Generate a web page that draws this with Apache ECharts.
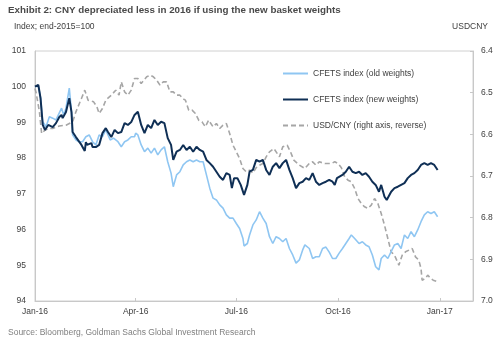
<!DOCTYPE html>
<html>
<head>
<meta charset="utf-8">
<script src="https://cdn.jsdelivr.net/npm/echarts@6/dist/echarts.min.js"></script>
<style>html,body{margin:0;padding:0;background:#fff;}#c{width:500px;height:340px;}</style>
</head>
<body>
<div id="c"></div>
<script>
var tickDates = ['2016-01-01','2016-04-01','2016-07-01','2016-10-01','2017-01-01'];
var tickLabels = ['Jan-16','Apr-16','Jul-16','Oct-16','Jan-17'];
var leftTicks = [94, 95, 96, 97, 98, 99, 100, 101];
var rightTicks = [6.4, 6.5, 6.6, 6.7, 6.8, 6.9, 7.0];

var newDates = ['2016-01-01','2016-01-04','2016-01-06','2016-01-08','2016-01-10','2016-01-13','2016-01-14','2016-01-17','2016-01-20','2016-01-23','2016-01-25','2016-01-26','2016-01-29','2016-02-01','2016-02-03','2016-02-04','2016-02-07','2016-02-12','2016-02-15','2016-02-16','2016-02-17','2016-02-21','2016-02-22','2016-02-25','2016-02-28','2016-03-02','2016-03-05','2016-03-07','2016-03-10','2016-03-13','2016-03-16','2016-03-19','2016-03-22','2016-03-25','2016-03-28','2016-03-31','2016-04-03','2016-04-06','2016-04-09','2016-04-12','2016-04-15','2016-04-18','2016-04-21','2016-04-24','2016-04-27','2016-04-30','2016-05-03','2016-05-05','2016-05-08','2016-05-11','2016-05-14','2016-05-17','2016-05-20','2016-05-23','2016-05-26','2016-05-29','2016-06-01','2016-06-04','2016-06-07','2016-06-10','2016-06-13','2016-06-16','2016-06-19','2016-06-22','2016-06-25','2016-06-27','2016-06-29','2016-07-02','2016-07-05','2016-07-08','2016-07-11','2016-07-13','2016-07-16','2016-07-19','2016-07-22','2016-07-25','2016-07-28','2016-07-31','2016-08-03','2016-08-06','2016-08-09','2016-08-12','2016-08-15','2016-08-16','2016-08-18','2016-08-21','2016-08-24','2016-08-27','2016-08-30','2016-09-02','2016-09-05','2016-09-08','2016-09-11','2016-09-14','2016-09-17','2016-09-20','2016-09-23','2016-09-26','2016-09-28','2016-09-30','2016-10-05','2016-10-08','2016-10-11','2016-10-14','2016-10-17','2016-10-20','2016-10-23','2016-10-26','2016-10-29','2016-11-01','2016-11-04','2016-11-07','2016-11-09','2016-11-12','2016-11-14','2016-11-18','2016-11-21','2016-11-24','2016-11-27','2016-11-30','2016-12-03','2016-12-06','2016-12-09','2016-12-12','2016-12-15','2016-12-18','2016-12-21','2016-12-24','2016-12-27','2016-12-30'];
var newValues = [100.0,100.05,99.68,98.93,98.79,98.93,98.98,98.87,98.98,99.15,99.21,99.12,99.29,99.68,99.29,98.73,98.59,98.37,98.20,98.45,98.37,98.42,98.31,98.31,98.37,98.70,98.84,98.73,98.59,98.79,98.70,98.73,98.98,98.93,99.01,99.21,99.30,98.93,98.70,98.93,98.84,99.07,98.93,99.02,98.98,98.56,98.37,97.95,98.18,98.23,98.37,98.23,98.32,98.18,98.32,98.23,98.18,97.95,97.86,97.76,97.62,97.48,97.39,97.58,97.53,97.16,97.44,97.44,97.25,96.97,97.25,97.62,97.67,97.95,97.90,97.95,97.67,97.53,97.76,97.86,97.72,97.86,97.95,97.95,97.67,97.44,97.16,97.30,97.34,97.44,97.39,97.58,97.34,97.25,97.30,97.34,97.39,97.34,97.25,97.44,97.53,97.62,97.76,97.62,97.58,97.62,97.53,97.58,97.48,97.34,97.25,97.06,97.25,96.92,96.83,97.06,97.16,97.20,97.25,97.30,97.44,97.53,97.58,97.67,97.81,97.86,97.81,97.86,97.81,97.67];

var oldDates = ['2016-01-01','2016-01-04','2016-01-06','2016-01-08','2016-01-11','2016-01-14','2016-01-17','2016-01-20','2016-01-25','2016-01-27','2016-01-29','2016-02-01','2016-02-03','2016-02-04','2016-02-07','2016-02-10','2016-02-13','2016-02-16','2016-02-19','2016-02-22','2016-02-25','2016-02-28','2016-03-02','2016-03-05','2016-03-09','2016-03-12','2016-03-16','2016-03-19','2016-03-22','2016-03-25','2016-03-28','2016-03-31','2016-04-01','2016-04-03','2016-04-06','2016-04-09','2016-04-12','2016-04-15','2016-04-18','2016-04-21','2016-04-24','2016-04-27','2016-04-30','2016-05-03','2016-05-05','2016-05-08','2016-05-11','2016-05-14','2016-05-17','2016-05-20','2016-05-23','2016-05-26','2016-05-29','2016-06-01','2016-06-04','2016-06-07','2016-06-10','2016-06-13','2016-06-16','2016-06-19','2016-06-22','2016-06-25','2016-06-28','2016-07-01','2016-07-04','2016-07-07','2016-07-08','2016-07-11','2016-07-13','2016-07-16','2016-07-19','2016-07-22','2016-07-25','2016-07-28','2016-07-31','2016-08-03','2016-08-06','2016-08-09','2016-08-12','2016-08-15','2016-08-18','2016-08-21','2016-08-24','2016-08-27','2016-08-30','2016-09-01','2016-09-05','2016-09-08','2016-09-11','2016-09-14','2016-09-17','2016-09-20','2016-09-23','2016-09-26','2016-09-29','2016-10-02','2016-10-05','2016-10-08','2016-10-11','2016-10-13','2016-10-16','2016-10-20','2016-10-23','2016-10-26','2016-10-29','2016-11-01','2016-11-04','2016-11-07','2016-11-09','2016-11-12','2016-11-15','2016-11-18','2016-11-21','2016-11-24','2016-11-27','2016-11-30','2016-12-03','2016-12-06','2016-12-09','2016-12-12','2016-12-15','2016-12-18','2016-12-21','2016-12-24','2016-12-27','2016-12-30'];
var oldValues = [100.0,100.02,99.70,99.02,98.88,99.16,99.12,99.07,99.40,99.21,99.40,99.96,99.30,98.65,98.51,98.46,98.46,98.60,98.65,98.46,98.37,98.65,98.60,98.79,98.51,98.56,98.46,98.32,98.46,98.51,98.60,98.60,98.70,98.65,98.37,98.18,98.28,98.14,98.28,98.09,98.23,98.32,97.90,97.58,97.20,97.53,97.62,97.81,97.90,97.95,97.90,97.95,97.90,97.90,97.53,97.16,96.88,96.83,96.69,96.60,96.41,96.32,96.32,96.17,96.03,95.75,95.54,95.61,95.85,96.13,96.27,96.50,96.32,96.17,95.80,95.61,95.80,95.75,95.66,95.75,95.47,95.29,95.06,95.15,95.43,95.57,95.47,95.19,95.24,95.24,95.47,95.51,95.37,95.19,95.19,95.34,95.47,95.61,95.75,95.85,95.75,95.61,95.66,95.57,95.52,95.29,94.96,94.87,95.19,95.29,95.19,95.38,95.57,95.61,95.47,95.85,95.75,95.94,95.80,95.99,96.22,96.41,96.50,96.45,96.50,96.36];

var usdDates = ['2016-01-01','2016-01-02','2016-01-05','2016-01-07','2016-01-10','2016-01-13','2016-01-17','2016-01-23','2016-01-29','2016-02-04','2016-02-07','2016-02-12','2016-02-15','2016-02-18','2016-02-23','2016-02-26','2016-02-28','2016-03-02','2016-03-05','2016-03-10','2016-03-14','2016-03-17','2016-03-19','2016-03-22','2016-03-25','2016-03-28','2016-03-31','2016-04-03','2016-04-06','2016-04-11','2016-04-14','2016-04-17','2016-04-20','2016-04-23','2016-04-26','2016-04-29','2016-05-02','2016-05-05','2016-05-08','2016-05-11','2016-05-14','2016-05-16','2016-05-19','2016-05-22','2016-05-25','2016-05-28','2016-05-31','2016-06-03','2016-06-06','2016-06-10','2016-06-13','2016-06-16','2016-06-19','2016-06-22','2016-06-25','2016-06-28','2016-07-01','2016-07-04','2016-07-07','2016-07-10','2016-07-13','2016-07-16','2016-07-19','2016-07-22','2016-07-25','2016-07-28','2016-07-31','2016-08-04','2016-08-09','2016-08-12','2016-08-16','2016-08-19','2016-08-22','2016-08-27','2016-09-01','2016-09-05','2016-09-08','2016-09-11','2016-09-14','2016-09-19','2016-09-25','2016-09-28','2016-10-01','2016-10-04','2016-10-07','2016-10-10','2016-10-13','2016-10-16','2016-10-19','2016-10-22','2016-10-25','2016-10-28','2016-10-31','2016-11-03','2016-11-06','2016-11-09','2016-11-12','2016-11-15','2016-11-18','2016-11-21','2016-11-25','2016-11-28','2016-12-01','2016-12-07','2016-12-10','2016-12-13','2016-12-15','2016-12-16','2016-12-19','2016-12-21','2016-12-24','2016-12-26','2016-12-30'];
var usdValues = [6.49,6.50,6.546,6.598,6.59,6.586,6.586,6.58,6.578,6.57,6.546,6.514,6.494,6.518,6.522,6.534,6.55,6.538,6.518,6.506,6.494,6.506,6.474,6.498,6.506,6.494,6.466,6.466,6.478,6.462,6.458,6.462,6.47,6.482,6.474,6.474,6.498,6.498,6.506,6.506,6.515,6.518,6.542,6.542,6.55,6.566,6.57,6.582,6.566,6.582,6.574,6.586,6.578,6.574,6.598,6.626,6.642,6.658,6.682,6.69,6.686,6.693,6.68,6.674,6.67,6.654,6.642,6.634,6.654,6.63,6.626,6.642,6.662,6.674,6.682,6.67,6.666,6.674,6.666,6.67,6.67,6.666,6.67,6.68,6.702,6.71,6.714,6.73,6.754,6.766,6.774,6.778,6.77,6.754,6.766,6.79,6.818,6.85,6.882,6.89,6.914,6.89,6.882,6.874,6.894,6.902,6.922,6.95,6.946,6.938,6.946,6.95,6.954];

function ts(s) {
  var p = s.split('-');
  return Date.UTC(+p[0], +p[1] - 1, +p[2]);
}
function pairs(d, v) { return d.map(function (x, i) { return [ts(x), v[i]]; }); }
var tickTs = tickDates.map(ts);

var FONT = 'Liberation Sans, Arial, sans-serif';
var chart = echarts.init(document.getElementById('c'), null, { renderer: 'canvas' });
chart.setOption({
  animation: false,
  backgroundColor: '#ffffff',
  textStyle: { fontFamily: FONT },
  title: [
    { text: 'Exhibit 2: CNY depreciated less in 2016 if using the new basket weights', left: 3, top: 0,
      textStyle: { fontSize: 9.8, fontWeight: 'bold', color: '#4a4a4a', fontFamily: FONT } },
    { text: 'Index; end-2015=100', left: 9, top: 17,
      textStyle: { fontSize: 8.5, fontWeight: 'normal', color: '#404040', fontFamily: FONT } },
    { text: 'USDCNY', right: 7, top: 17,
      textStyle: { fontSize: 8.5, fontWeight: 'normal', color: '#404040', fontFamily: FONT } },
    { text: 'Source: Bloomberg, Goldman Sachs Global Investment Research', left: 3, top: 323,
      textStyle: { fontSize: 8.5, fontWeight: 'normal', color: '#7f7f7f', fontFamily: FONT } }
  ],
  legend: {
    orient: 'vertical', left: 277, top: 64,
    itemWidth: 25, itemHeight: 8, itemGap: 17,
    itemStyle: { opacity: 0 },
    data: ['CFETS index (old weights)', 'CFETS index (new weights)', 'USD/CNY (right axis, reverse)'],
    textStyle: { fontSize: 8.5, color: '#404040', fontFamily: FONT }
  },
  grid: { left: 35, right: 27, top: 51, bottom: 39, show: true, borderColor: '#d0d0d0', borderWidth: 1 },
  xAxis: {
    type: 'value',
    min: ts('2016-01-01'), max: ts('2017-01-31'),
    splitLine: { show: false },
    axisLine: { lineStyle: { color: '#c8c8c8' } },
    axisTick: { show: true, inside: true, length: 3, customValues: tickTs, lineStyle: { color: '#c8c8c8' } },
    axisLabel: {
      customValues: tickTs, fontSize: 8.5, color: '#404040', margin: 6, fontFamily: FONT,
      formatter: function (v) {
        for (var i = 0; i < tickTs.length; i++) { if (Math.abs(tickTs[i] - v) < 86400000) return tickLabels[i]; }
        return '';
      }
    }
  },
  yAxis: [
    {
      type: 'value', min: leftTicks[0], max: leftTicks[leftTicks.length - 1], interval: 1, position: 'left',
      splitLine: { show: false },
      axisLine: { show: true, lineStyle: { color: '#c8c8c8' } },
      axisTick: { show: false },
      axisLabel: { fontSize: 8.5, color: '#404040', margin: 9, fontFamily: FONT }
    },
    {
      type: 'value', min: rightTicks[0], max: rightTicks[rightTicks.length - 1], interval: 0.1, inverse: true, position: 'right',
      splitLine: { show: false },
      axisLine: { show: true, lineStyle: { color: '#c8c8c8' } },
      axisTick: { show: true, inside: true, length: 3, lineStyle: { color: '#c8c8c8' } },
      axisLabel: { fontSize: 8.5, color: '#404040', margin: 8, fontFamily: FONT,
        formatter: function (v) { return v.toFixed(1); } }
    }
  ],
  series: [
    { name: 'USD/CNY (right axis, reverse)', type: 'line', yAxisIndex: 1, data: pairs(usdDates, usdValues),
      symbol: 'none', lineStyle: { color: '#a6a6a6', width: 1.6, type: [5, 3] }, itemStyle: { color: '#a6a6a6' } },
    { name: 'CFETS index (old weights)', type: 'line', yAxisIndex: 0, data: pairs(oldDates, oldValues),
      symbol: 'none', lineStyle: { color: '#8fc6f2', width: 1.6 }, itemStyle: { color: '#8fc6f2' } },
    { name: 'CFETS index (new weights)', type: 'line', yAxisIndex: 0, data: pairs(newDates, newValues),
      symbol: 'none', lineStyle: { color: '#0f2f55', width: 2 }, itemStyle: { color: '#0f2f55' } }
  ]
});
</script>
</body>
</html>
